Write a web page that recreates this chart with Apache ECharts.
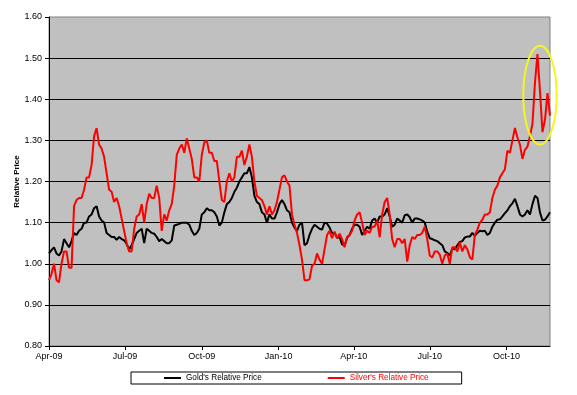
<!DOCTYPE html>
<html><head><meta charset="utf-8">
<script src="https://cdn.jsdelivr.net/npm/echarts@6/dist/echarts.min.js"></script>
<style>html,body{margin:0;padding:0;background:#fff}#c{width:577px;height:395px}</style>
</head><body><div id="c"></div>
<script>
const dates = [
'2009-04-01','2009-04-04','2009-04-07','2009-04-10','2009-04-13','2009-04-16','2009-04-19','2009-04-22','2009-04-25','2009-04-28',
'2009-05-01','2009-05-04','2009-05-07','2009-05-10','2009-05-13','2009-05-16','2009-05-19','2009-05-22','2009-05-25','2009-05-28','2009-05-31',
'2009-06-03','2009-06-06','2009-06-09','2009-06-12','2009-06-15','2009-06-18','2009-06-21','2009-06-24','2009-06-27','2009-06-30',
'2009-07-03','2009-07-06','2009-07-09','2009-07-12','2009-07-15','2009-07-18','2009-07-21','2009-07-24','2009-07-27','2009-07-30',
'2009-08-02','2009-08-05','2009-08-08','2009-08-11','2009-08-14','2009-08-17','2009-08-20','2009-08-23','2009-08-26','2009-08-29',
'2009-09-01','2009-09-04','2009-09-07','2009-09-10','2009-09-13','2009-09-16','2009-09-19','2009-09-22','2009-09-25','2009-09-28',
'2009-10-01','2009-10-04','2009-10-07','2009-10-10','2009-10-13','2009-10-16','2009-10-19','2009-10-22','2009-10-25','2009-10-28','2009-10-31',
'2009-11-03','2009-11-06','2009-11-09','2009-11-12','2009-11-15','2009-11-18','2009-11-21','2009-11-24','2009-11-27','2009-11-30',
'2009-12-03','2009-12-06','2009-12-09','2009-12-12','2009-12-15','2009-12-18','2009-12-21','2009-12-24','2009-12-27','2009-12-30',
'2010-01-02','2010-01-05','2010-01-08','2010-01-11','2010-01-14','2010-01-17','2010-01-20','2010-01-23','2010-01-26','2010-01-29',
'2010-02-01','2010-02-04','2010-02-07','2010-02-10','2010-02-13','2010-02-16','2010-02-19','2010-02-22','2010-02-25','2010-02-28',
'2010-03-03','2010-03-06','2010-03-09','2010-03-12','2010-03-15','2010-03-18','2010-03-21','2010-03-24','2010-03-27','2010-03-30',
'2010-04-02','2010-04-05','2010-04-08','2010-04-11','2010-04-14','2010-04-17','2010-04-20','2010-04-23','2010-04-26','2010-04-29',
'2010-05-02','2010-05-05','2010-05-08','2010-05-11','2010-05-14','2010-05-17','2010-05-20','2010-05-23','2010-05-26','2010-05-29',
'2010-06-01','2010-06-04','2010-06-07','2010-06-10','2010-06-13','2010-06-16','2010-06-19','2010-06-22','2010-06-25','2010-06-28',
'2010-07-01','2010-07-04','2010-07-07','2010-07-10','2010-07-13','2010-07-16','2010-07-19','2010-07-22','2010-07-25','2010-07-28','2010-07-31',
'2010-08-03','2010-08-06','2010-08-09','2010-08-12','2010-08-15','2010-08-18','2010-08-21','2010-08-24','2010-08-27','2010-08-30',
'2010-09-02','2010-09-05','2010-09-08','2010-09-11','2010-09-14','2010-09-17','2010-09-20','2010-09-23','2010-09-26','2010-09-29',
'2010-10-02','2010-10-05','2010-10-08','2010-10-11','2010-10-14','2010-10-17','2010-10-20','2010-10-23','2010-10-26','2010-10-29',
'2010-11-01','2010-11-04','2010-11-07','2010-11-10','2010-11-13','2010-11-16','2010-11-19','2010-11-22'
];
const gold = [
1.025,1.033,1.04,1.025,1.02,1.03,1.06,1.05,1.04,1.055,
1.075,1.07,1.08,1.085,1.10,1.10,1.115,1.12,1.135,1.14,
1.115,1.105,1.10,1.075,1.07,1.065,1.065,1.058,1.065,1.06,
1.057,1.048,1.035,1.045,1.06,1.075,1.08,1.085,1.05,1.085,
1.08,1.075,1.073,1.065,1.055,1.06,1.055,1.05,1.05,1.057,
1.093,1.095,1.097,1.10,1.10,1.10,1.095,1.08,1.07,1.075,
1.085,1.12,1.125,1.135,1.13,1.13,1.125,1.115,1.093,1.10,
1.125,1.145,1.15,1.16,1.175,1.185,1.20,1.21,1.22,1.22,
1.235,1.21,1.165,1.15,1.145,1.125,1.12,1.10,1.12,1.11,
1.11,1.125,1.145,1.155,1.145,1.13,1.125,1.10,1.088,1.08,
1.095,1.10,1.045,1.05,1.07,1.085,1.095,1.09,1.085,1.083,
1.10,1.098,1.088,1.075,1.075,1.063,1.065,1.047,1.045,1.063,
1.07,1.085,1.095,1.095,1.09,1.07,1.08,1.09,1.085,1.105,
1.11,1.10,1.115,1.115,1.12,1.135,1.115,1.09,1.095,1.11,
1.105,1.10,1.118,1.12,1.113,1.10,1.11,1.11,1.108,1.105,
1.10,1.078,1.062,1.06,1.057,1.055,1.05,1.045,1.03,1.026,
1.02,1.037,1.035,1.045,1.053,1.055,1.064,1.066,1.066,1.075,
1.068,1.075,1.08,1.079,1.08,1.07,1.075,1.09,1.10,1.107,
1.108,1.115,1.123,1.13,1.14,1.147,1.158,1.14,1.12,1.115,
1.12,1.13,1.12,1.145,1.165,1.16,1.125,1.105,1.107,1.115,1.125
];
const silver = [
0.96,0.975,1.00,0.96,0.955,1.00,1.03,1.03,0.99,0.99,
1.14,1.155,1.16,1.16,1.18,1.21,1.21,1.24,1.31,1.33,
1.29,1.28,1.26,1.22,1.18,1.175,1.15,1.16,1.14,1.11,
1.08,1.05,1.03,1.03,1.085,1.115,1.12,1.145,1.10,1.145,
1.17,1.16,1.16,1.19,1.16,1.08,1.12,1.105,1.13,1.145,
1.19,1.265,1.28,1.29,1.27,1.305,1.28,1.255,1.21,1.21,
1.20,1.265,1.295,1.30,1.27,1.27,1.25,1.25,1.20,1.155,
1.15,1.20,1.22,1.20,1.21,1.26,1.26,1.275,1.24,1.26,
1.29,1.26,1.20,1.165,1.16,1.155,1.14,1.12,1.14,1.12,
1.13,1.15,1.18,1.21,1.215,1.20,1.19,1.12,1.095,1.075,
1.045,1.01,0.96,0.96,0.962,0.995,1.00,1.025,1.01,1.00,
1.035,1.07,1.08,1.062,1.078,1.062,1.073,1.06,1.04,1.065,
1.07,1.08,1.105,1.12,1.125,1.10,1.07,1.08,1.075,1.09,
1.09,1.105,1.065,1.12,1.15,1.16,1.12,1.06,1.04,1.06,
1.06,1.05,1.06,1.005,1.045,1.065,1.06,1.07,1.07,1.075,
1.09,1.06,1.02,1.015,1.03,1.03,1.022,1.00,1.02,1.025,
1.00,1.04,1.04,1.03,1.052,1.03,1.045,1.035,1.016,1.01,
1.07,1.083,1.10,1.107,1.12,1.12,1.125,1.16,1.18,1.19,
1.21,1.22,1.23,1.275,1.27,1.30,1.33,1.307,1.29,1.255,
1.277,1.285,1.31,1.34,1.44,1.51,1.42,1.32,1.35,1.415,1.36
];
const seriesNames = ["Gold's Relative Price", "Silver's Relative Price"];
const tickDates = ['2009-04-01','2009-07-01','2009-10-01','2010-01-01','2010-04-01','2010-07-01','2010-10-01'];
const tickLabels = ['Apr-09','Jul-09','Oct-09','Jan-10','Apr-10','Jul-10','Oct-10'];
const xRange = ['2009-04-01', '2010-11-22'];
const yMin = 0.8, yMax = 1.6, yStep = 0.1;
const highlight = { from: '2010-10-21', to: '2010-11-30', low: 1.29, high: 1.53 };

const T = s => { const p = s.split('-').map(Number); return Date.UTC(p[0], p[1] - 1, p[2]); };
const tickTs = tickDates.map(T);
const FONT = "'Liberation Sans', Arial, sans-serif";
const labelFor = v => { let i = 0, best = Infinity; tickTs.forEach((t, j) => { const d = Math.abs(t - v); if (d < best) { best = d; i = j; } }); return tickLabels[i]; };

const chart = echarts.init(document.getElementById('c'), null, { renderer: 'canvas' });
chart.setOption({
  animation: false,
  backgroundColor: '#ffffff',
  textStyle: { fontFamily: FONT },
  grid: { left: 49, right: 27, top: 17, bottom: 49, show: true,
          backgroundColor: '#C0C0C0', borderColor: '#808080', borderWidth: 1 },
  legend: {
    left: 131, top: 372, orient: 'horizontal',
    padding: [2, 33, 2, 33], itemGap: 66, itemWidth: 17, itemHeight: 2,
    icon: 'rect', borderColor: '#000', borderWidth: 1, backgroundColor: '#fff',
    textStyle: { fontFamily: FONT, fontSize: 8.2 },
    data: [
      { name: seriesNames[0], textStyle: { color: '#000000' } },
      { name: seriesNames[1], textStyle: { color: '#FF0000' } }
    ]
  },
  xAxis: {
    type: 'value', min: T(xRange[0]), max: T(xRange[1]),
    axisLine: { show: true, onZero: false, lineStyle: { color: '#000', width: 1 } },
    axisTick: { show: true, length: 4, inside: false, lineStyle: { color: '#000' }, customValues: tickTs },
    axisLabel: { customValues: tickTs, color: '#000', fontSize: 9, fontFamily: FONT, margin: 6, formatter: labelFor },
    splitLine: { show: false }
  },
  yAxis: {
    type: 'value', min: yMin, max: yMax, interval: yStep,
    name: 'Relative Price', nameLocation: 'middle', nameGap: 28, nameRotate: 90, nameMoveOverlap: false,
    nameTextStyle: { color: '#000', fontSize: 8, fontWeight: 'bold', fontFamily: FONT },
    axisLine: { show: true, lineStyle: { color: '#000', width: 1 } },
    axisTick: { show: true, length: 4, inside: false, lineStyle: { color: '#000' } },
    axisLabel: { color: '#000', fontSize: 9, fontFamily: FONT, margin: 7, formatter: v => v.toFixed(2) },
    splitLine: { show: true, showMaxLine: false, lineStyle: { color: '#000', width: 1 } }
  },
  series: [
    { name: seriesNames[0], type: 'line', showSymbol: false, symbol: 'none',
      data: dates.map((d, i) => [T(d), gold[i]]), lineStyle: { color: '#000000', width: 2 }, itemStyle: { color: '#000000' } },
    { name: seriesNames[1], type: 'line', showSymbol: false, symbol: 'none',
      data: dates.map((d, i) => [T(d), silver[i]]), lineStyle: { color: '#FF0000', width: 2 }, itemStyle: { color: '#FF0000' } }
  ]
});
const p1 = chart.convertToPixel({ gridIndex: 0 }, [T(highlight.from), highlight.high]);
const p2 = chart.convertToPixel({ gridIndex: 0 }, [T(highlight.to), highlight.low]);
chart.setOption({ graphic: [{ type: 'ellipse', z: 100,
  shape: { cx: (p1[0] + p2[0]) / 2, cy: (p1[1] + p2[1]) / 2, rx: Math.abs(p2[0] - p1[0]) / 2, ry: Math.abs(p2[1] - p1[1]) / 2 },
  style: { fill: null, stroke: '#F5F520', lineWidth: 2 } }] });
</script></body></html>
